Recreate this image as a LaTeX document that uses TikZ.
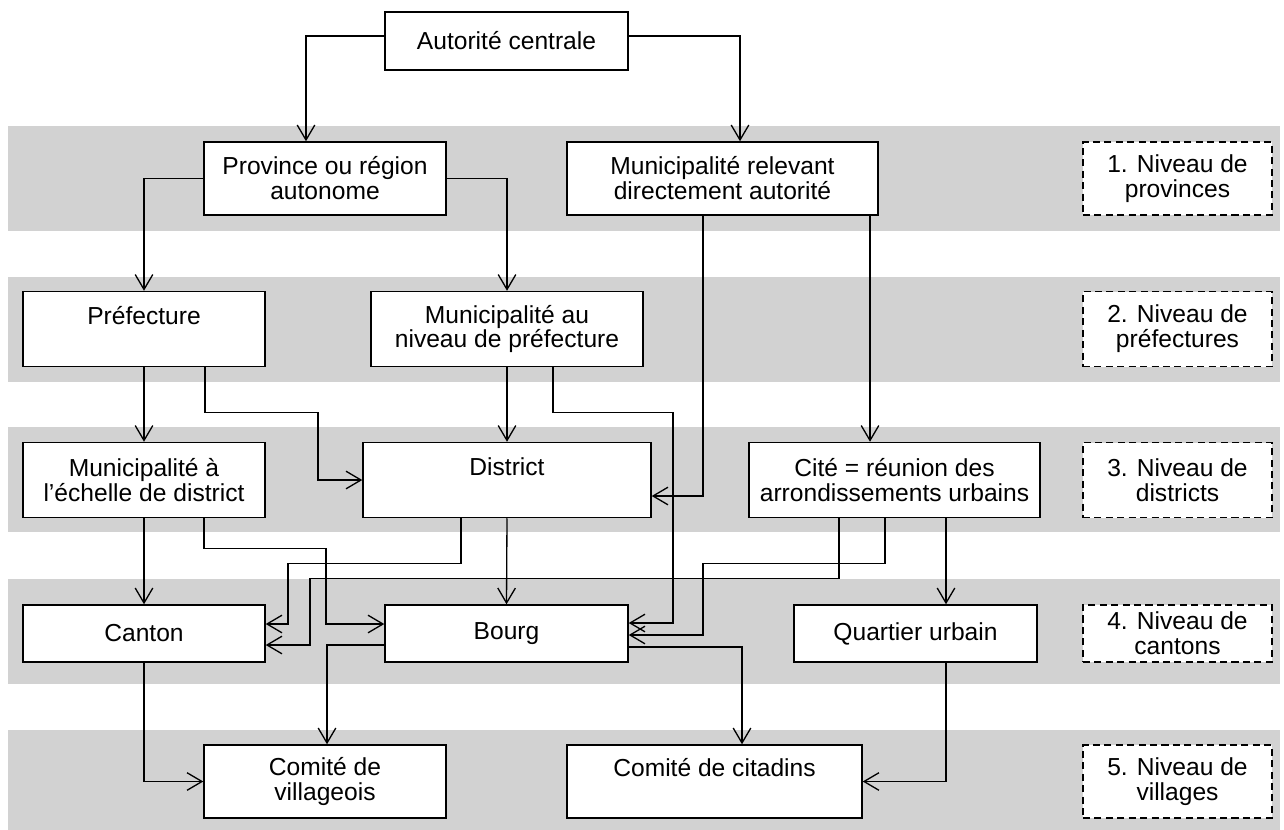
\documentclass[tikz,border=0pt]{standalone}
\usepackage{fontspec}
\setmainfont{Liberation Sans}
\usetikzlibrary{arrows.meta, calc}
\definecolor{bandgray}{RGB}{210,210,210}
\newcommand{\boxfont}{\fontsize{14pt}{14.2pt}\selectfont}

\begin{document}
\begin{tikzpicture}[
  x=0.02cm, y=-0.02cm,
  font=\boxfont,
  every node/.style={align=center},
  arr/.style={-{Straight Barb[length=8.5pt, width=10pt]}, line width=0.75pt, draw=black},
  box/.style={rectangle, draw=black, line width=0.85pt, fill=white, inner sep=2pt,
              minimum width=4.84cm, minimum height=1.5cm},
  flat/.style={box, minimum height=1.14cm},
  upper/.style={text depth=0.55cm},
  level/.style={box, minimum width=3.78cm, dash pattern=on 4pt off 2.5pt},
]
\useasboundingbox (0,0) rectangle (1284,829);

% ------------------------------------------------------------------ bands
\foreach \t in {126,277,427,579,730}
  \fill[bandgray] (8,\t) rectangle (1280,\t+105);

% ------------------------------------------------------------------ level 0/1
\node[box, minimum width=4.86cm, minimum height=1.16cm] (aut) at (506.5,41) {Autorité centrale};
\node[box, minimum height=1.46cm] (prov)   at (325,178.5)   {Province ou région\\autonome};
\node[box, minimum width=6.22cm, minimum height=1.46cm] (munrel) at (722.5,178.5) {Municipalité relevant\\directement autorité};
\node[level, minimum height=1.46cm] (niv1) at (1177.5,178.5) {1. Niveau de\\provinces};

% ------------------------------------------------------------------ level 2
\node[box, upper] (pref) at (144,329) {Préfecture};
\node[box, minimum width=5.44cm] (munpref) at (507,329) {Municipalité au\\niveau de préfecture};
\node[level] (niv2) at (1177.5,329) {2. Niveau de\\préfectures};

% ------------------------------------------------------------------ level 3
\node[box] (mundist) at (144,480) {Municipalité à\\l’échelle de district};
\node[box, upper, minimum width=5.76cm] (district) at (507,480) {District};
\node[box, minimum width=5.82cm] (cite) at (894.5,480) {Cité = réunion des\\arrondissements urbains};
\node[level] (niv3) at (1177.5,480) {3. Niveau de\\districts};

% ------------------------------------------------------------------ level 4
\node[flat] (canton) at (144,633.5) {Canton};
\node[flat, minimum width=4.86cm] (bourg) at (506.5,633.5) {Bourg};
\node[flat, minimum width=4.86cm] (quartier) at (915.5,633.5) {Quartier urbain};
\node[level, minimum height=1.14cm] (niv4) at (1177.5,633.5) {4. Niveau de\\cantons};

% ------------------------------------------------------------------ level 5
\node[box, minimum height=1.46cm] (comvil) at (325,781.5) {Comité de\\villageois};
\node[box, upper, minimum width=5.9cm, minimum height=1.46cm] (comcit) at (714.5,781.5) {Comité de citadins};
\node[level, minimum height=1.46cm] (niv5) at (1177.5,781.5) {5. Niveau de\\villages};

% ------------------------------------------------------------------ arrows top
\draw[arr] ($(aut.west)+(0,-5)$) -| ($(prov.north)+(-19,0)$);
\draw[arr] ($(aut.east)+(0,-5)$) -| ($(munrel.north)+(17.5,0)$);
\draw[arr] (prov.west) -| (pref.north);
\draw[arr] (prov.east) -| (munpref.north);
\draw[arr] ($(munrel.south)+(-19.5,0)$) |- ($(district.east)+(0,16)$);
\coordinate (c1) at ($(munrel.south)+(147.5,0)$);
\draw[arr] (c1) -- (c1 |- cite.north);

% ------------------------------------------------------------------ arrows middle
\draw[arr] (pref.south) -- (mundist.north);
\draw[arr] ($(pref.south)+(61,0)$) -- ++(0,45) -- ++(113,0) |- (district.west);
\draw[arr] (munpref.south) -- (district.north);
\draw[arr] ($(munpref.south)+(46,0)$) -- ++(0,45) -- ++(120,0) |- ($(bourg.east)+(0,-10.5)$);
\draw[arr] (mundist.south) -- (canton.north);
\draw[arr] ($(mundist.south)+(60,0)$) -- ++(0,30) -- ++(122,0) |- ($(bourg.west)+(0,-9.5)$);
\draw[arr] (district.south) -- (bourg.north);
\draw[arr] ($(district.south)+(-46,0)$) -- ++(0,45) -- ++(-173,0) |- ($(canton.east)+(0,-9.5)$);
\draw[arr] ($(cite.south)+(-55.5,0)$) -- ++(0,60) -- ++(-529,0) |- ($(canton.east)+(0,11.5)$);
\draw[arr] ($(cite.south)+(-9.5,0)$) -- ++(0,45) -- ++(-182,0) |- ($(bourg.east)+(0,1.5)$);
\coordinate (c2) at ($(cite.south)+(51.5,0)$);
\draw[arr] (c2) -- (c2 |- quartier.north);

% ------------------------------------------------------------------ arrows bottom
\draw[arr] (canton.south) |- (comvil.west);
\draw[arr] ($(bourg.west)+(0,11.5)$) -| ($(comvil.north)+(2,0)$);
\draw[arr] ($(bourg.east)+(0,13.5)$) -| ($(comcit.north)+(27.5,0)$);
\draw[arr] ($(quartier.south)+(30.5,0)$) |- (comcit.east);

\end{tikzpicture}
\end{document}
